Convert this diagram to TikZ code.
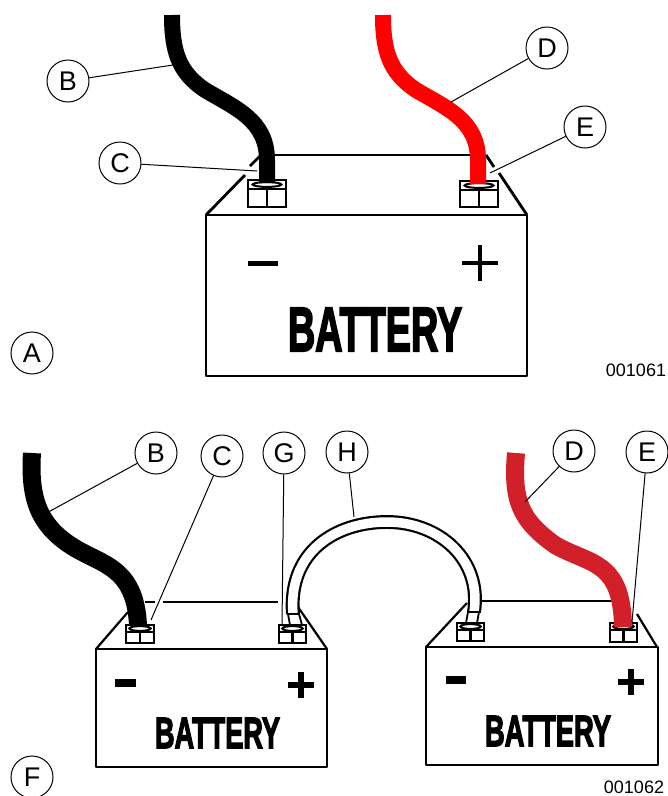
\documentclass[tikz,border=0pt]{standalone}
\usepackage{fontspec}
\setmainfont{Liberation Sans}
\newfontfamily\batfont[UprightFont=* Bold,UprightFeatures={FakeBold=3.5}]{Liberation Sans}
\definecolor{cableRed}{HTML}{D2202A}
\tikzstyle{callout}=[draw,circle,line width=1pt,minimum size=42pt,inner sep=0pt,font=\fontsize{27}{27}\selectfont]
\tikzstyle{leader}=[line width=1pt]
\tikzstyle{case}=[line width=2.2pt,line join=round]
\tikzstyle{bigcase}=[line width=2.8pt,line join=round]
\tikzstyle{cable}=[line width=16pt,line join=round]
\tikzstyle{partno}=[inner sep=0pt,font=\fontsize{18}{18}\selectfont]
% terminal: left, top, right, bottom, y of the divider
\newcommand{\terminal}[5]{
    \draw[line width=2.2pt] (#1,#2) rectangle (#3,#4);
    \draw[line width=2.2pt] (#1,#5) -- (#3,#5);
    \draw[line width=2.2pt] ({(#1+#3)/2},#5) -- ({(#1+#3)/2},#4);
    \draw[line width=2pt,fill=white] ({(#1+#3)/2},{(#2+#5)/2}) ellipse ({(#3-#1)*0.38} and 2.4);
}
% sign bars: x0, x1 and y, then the plus: centre and half size
\newcommand{\minussign}[4]{\fill (#1,#3) rectangle (#2,#4);}
\newcommand{\plussign}[4]{
    \draw[line width=#4pt] ({#1-#3},#2) -- ({#1+#3},#2);
    \draw[line width=#4pt] (#1,{#2-#3}) -- (#1,{#2+#3});
}
\begin{document}
\begin{tikzpicture}[x=1pt,y=-1pt]
    \useasboundingbox (0,0) rectangle (668,796);

    % upper battery
    \draw[bigcase] (206,215) rectangle (527,376);
    \draw[bigcase] (206,215) -- (245,175);
    \draw[bigcase] (250,166) -- (261,155);
    \draw[bigcase] (275,155) -- (471,155);
    \draw[bigcase] (486,155) -- (494,167);
    \draw[bigcase] (499,173) -- (527,215);
    \terminal{248}{180}{286}{207}{189}
    \terminal{460}{181}{498}{207}{190}
    \draw[cable,black] (172,15) .. controls (172,50) and (178,72) .. (205,90) .. controls (235,108) and (267,120) .. (267,160) -- (267,183);
    \draw[cable,red] (383,15) .. controls (383,50) and (389,72) .. (416,90) .. controls (446,108) and (478,120) .. (478,160) -- (478,184);
    \minussign{248}{278}{261}{266}
    \plussign{480}{263}{18}{3.5}
    \node[inner sep=0pt] (batA) at (375,329.5) {\resizebox{174pt}{43pt}{\batfont BATTERY}};

    % left battery
    \draw[case] (96,649) rectangle (327,767);
    \draw[case] (96,649) -- (128,612);
    \draw[case] (145,602) -- (155,602);
    \draw[case] (163,602) -- (278,602);
    \draw[case] (298,607) -- (327,649);
    \terminal{126}{625}{154}{643}{632}
    \terminal{279}{625}{306}{643}{632}
    \draw[cable,black,line width=18pt] (32,453) .. controls (29,500) and (40,525) .. (70,545) .. controls (100,565) and (135,565) .. (138,625);
    \minussign{115}{136}{679}{687}
    \plussign{301}{685}{13}{6}
    \node[inner sep=0pt] (batB) at (217.5,733) {\resizebox{125pt}{30pt}{\batfont BATTERY}};

    % right battery
    \draw[case] (426,647) rectangle (658,765);
    \draw[case] (426,647) -- (467,603);
    \draw[case] (481,601) -- (613,601);
    \draw[case] (637,614) -- (657,647);
    \terminal{457}{623}{484}{641}{630}
    \terminal{610}{623}{637}{642}{630}
    \draw[cable,cableRed,line width=18pt] (516,453) .. controls (512,500) and (520,520) .. (555,545) .. controls (590,565) and (622,560) .. (623,627);
    \minussign{446}{466}{676}{684}
    \plussign{631}{682}{13}{6}
    \node[inner sep=0pt] (batC) at (548,731) {\resizebox{126pt}{30pt}{\batfont BATTERY}};

    % jumper
    \draw[line width=2.2pt,double=white,double distance=9.5pt] (293,614) .. controls (288,552) and (335,522) .. (387,522) .. controls (440,522) and (482,560) .. (474,612);
    \draw[line width=1.8pt,fill=white] (288,614) -- (299,614) -- (302,625) -- (290,625) -- cycle;
    \draw[line width=1.8pt,fill=white] (468,612) -- (479,612) -- (477,623) -- (466,623) -- cycle;

    \foreach \name/\txt/\x/\y in {lblA/A/32/353, lblB/B/68/81, lblC/C/120/163, lblD/D/547/48, lblE/E/585/127,
        lblF/F/32/777, lblBb/B/156/453, lblCb/C/222/456, lblG/G/284/453, lblH/H/347/452, lblDb/D/574/451, lblEb/E/647/452}
        \node[callout] (\name) at (\x,\y) {\txt};

    \foreach \name/\x/\y in {lblB/173/65, lblC/257/171, lblD/451/102, lblE/490/173,
        lblBb/43/515, lblCb/151/620, lblG/282/625, lblH/354/517, lblDb/525/502, lblEb/632/622}
        \draw[leader] (\name) -- (\x,\y);

    \node[partno] (numA) at (636,370) {001061};
    \node[partno] (numB) at (634,787) {001062};
\end{tikzpicture}
\end{document}
